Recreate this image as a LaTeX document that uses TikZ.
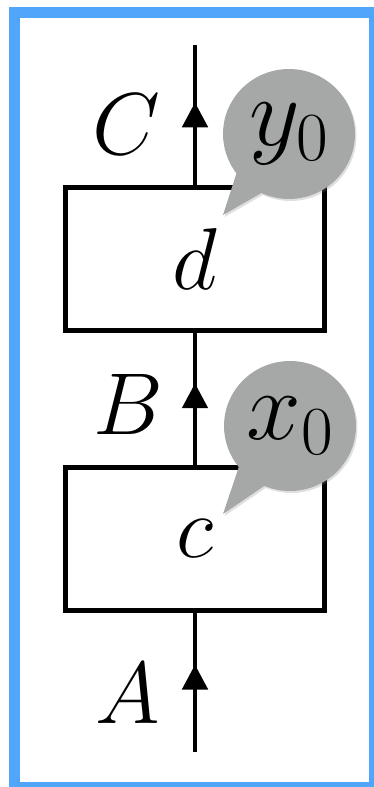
\RequirePackage{fix-cm}
\documentclass[tikz,border=0pt]{standalone}
\usetikzlibrary{positioning, arrows.meta, shapes.callouts, shadows, decorations.markings}
\definecolor{frameblue}{RGB}{80,166,250}
\definecolor{bubgray}{RGB}{165,168,166}

\begin{document}
\begin{tikzpicture}[
    x=0.02cm, y=-0.02cm,
    mapbox/.style={
        draw, line width=2.8pt, minimum width=5.19cm, minimum height=2.87cm,
        inner sep=0pt, font=\fontsize{50}{60}\selectfont
    },
    wirelbl/.style={font=\fontsize{50}{60}\selectfont, inner sep=0pt},
    bubble/.style={
        ellipse callout, fill=bubgray, minimum width=2.64cm, minimum height=2.6cm,
        inner sep=0pt, callout pointer arc=28, font=\fontsize{56}{66}\selectfont,
        drop shadow={opacity=0.25, shadow xshift=0.03cm, shadow yshift=-0.04cm}
    },
    wire/.style={line width=2.8pt},
    upmark/.style={
        postaction={decorate},
        decoration={markings, mark=at position #1 with {\arrow{Triangle[length=0.5cm, width=0.5cm]}}}
    },
]

% Page and frame
\useasboundingbox (0,0) rectangle (374,787);
\clip (0,0) rectangle (374,787);
\draw[frameblue, line width=0.22cm] (14.5,12.5) rectangle (374.5,787.5);

% Column x-coordinate
\def\cx{195}

% ====== BOXES ======
\node[mapbox] (dbox) at (\cx, 259) {$d$};
\node[mapbox] (cbox) at (\cx, 539) {$c$};

\coordinate (wtop) at (\cx, 45);
\coordinate (wbot) at (\cx, 752);

% ====== WIRES ======
\draw[wire, upmark=0.59] (dbox.north) -- (wtop);
\draw[wire, upmark=0.62] (cbox.north) -- (dbox.south);
\draw[wire, upmark=0.63] (wbot) -- (cbox.south);

% Wire labels
\node[wirelbl] (lblC) at (126, 124) {$C$};
\node[wirelbl] (lblB) at (128, 404) {$B$};
\node[wirelbl] (lblA) at (128, 693) {$A$};

% ====== BUBBLES ======
\coordinate (ytip) at (223, 215);
\coordinate (xtip) at (223, 514);
\node[bubble, callout absolute pointer={(ytip)}] (ybub) at (289, 134) {$y_0$};
\node[bubble, callout absolute pointer={(xtip)}] (xbub) at (290, 426) {$x_0$};

\end{tikzpicture}
\end{document}
